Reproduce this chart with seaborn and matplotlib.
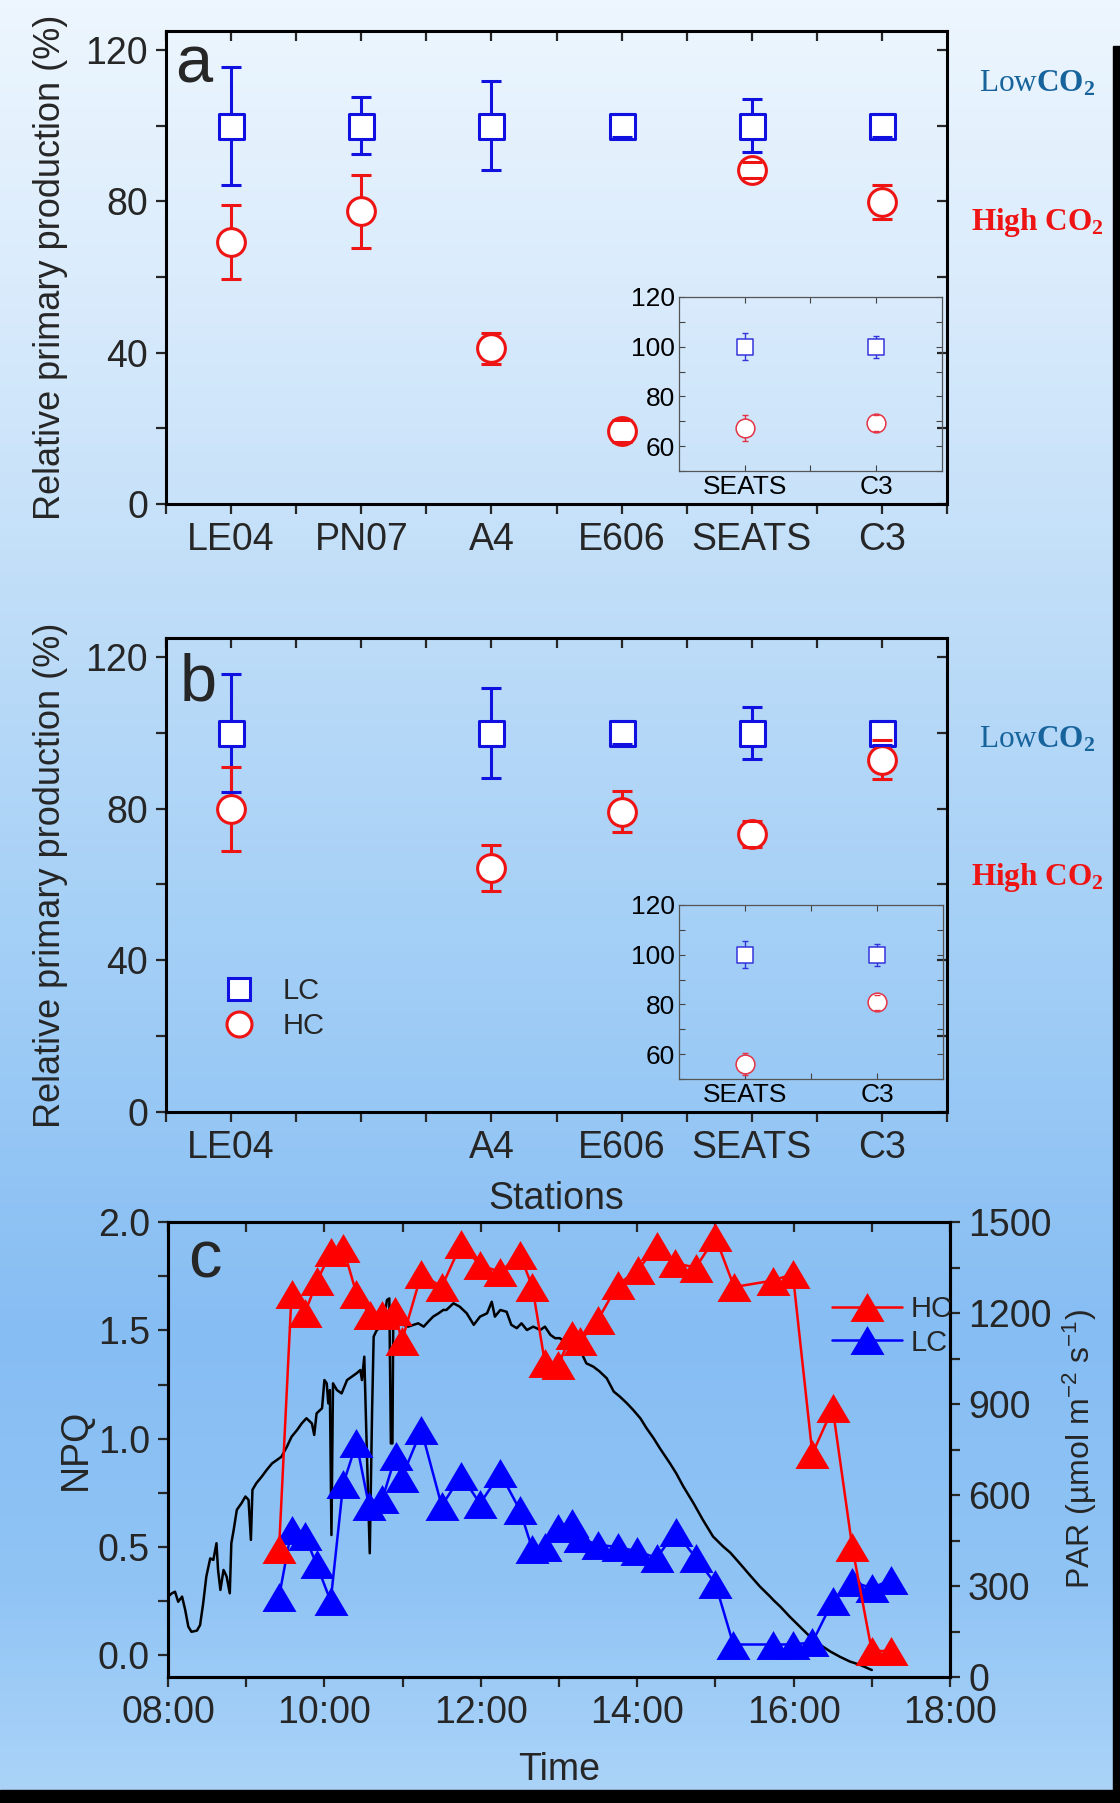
import numpy as np
import matplotlib
matplotlib.use('Agg')
import matplotlib.pyplot as plt
import seaborn as sns
from matplotlib.colors import LinearSegmentedColormap
from matplotlib.patches import Rectangle
from matplotlib.lines import Line2D
from matplotlib.ticker import MultipleLocator, FixedLocator, FuncFormatter

# ---- data -------------------------------------------------------------
stations = ['LE04', 'PN07', 'A4', 'E606', 'SEATS', 'C3']
stations_b = ['LE04', '', 'A4', 'E606', 'SEATS', 'C3']

# panel a: relative primary production (%)
a_pos = [1, 2, 3, 4, 5, 6]
a_lc = [100, 100, 100, 100, 100, 100]
a_lc_err = [15.6, 7.6, 11.8, 3.0, 6.9, 3.0]
a_hc = [69.2, 77.3, 41.1, 19.3, 88.3, 79.8]
a_hc_err = [9.8, 9.7, 4.0, 3.0, 2.2, 4.5]

# panel b: no PN07
b_pos = [1, 3, 4, 5, 6]
b_lc = [100, 100, 100, 100, 100]
b_lc_err = [15.5, 11.8, 3.0, 6.8, 3.2]
b_hc = [79.9, 64.4, 79.2, 73.3, 92.9]
b_hc_err = [11.2, 6.1, 5.4, 3.5, 5.2]

# insets
inset_st = ['SEATS', 'C3']
ia_lc = [100, 100]
ia_lc_err = [5.5, 4.5]
ia_hc = [67.3, 69.2]
ia_hc_err = [5.3, 3.2]
ib_lc = [100, 100]
ib_lc_err = [5.5, 4.5]
ib_hc = [56.1, 80.9]
ib_hc_err = [4.3, 3.0]

# panel c: NPQ time course (hours)
hc_time = [9.42, 9.58, 9.75, 9.91, 10.08, 10.24, 10.41, 10.58, 10.74, 10.90,
           10.99, 11.24, 11.50, 11.75, 11.99, 12.25, 12.50, 12.66, 12.82, 12.99,
           13.16, 13.27, 13.50, 13.75, 14.01, 14.25, 14.48, 14.75, 15.00, 15.24,
           15.74, 15.99, 16.24, 16.50, 16.75, 17.00, 17.25]
hc_npq = [0.49, 1.67, 1.58, 1.73, 1.86, 1.88, 1.67, 1.57, 1.57, 1.59,
          1.45, 1.76, 1.70, 1.90, 1.80, 1.77, 1.85, 1.70, 1.35, 1.34,
          1.48, 1.45, 1.55, 1.71, 1.78, 1.89, 1.81, 1.79, 1.93, 1.70,
          1.73, 1.76, 0.93, 1.14, 0.50, 0.02, 0.02]
lc_time = [9.42, 9.58, 9.75, 9.90, 10.08, 10.24, 10.41, 10.57, 10.74, 10.91,
           10.99, 11.24, 11.50, 11.75, 11.99, 12.25, 12.50, 12.66, 12.82, 12.99,
           13.16, 13.27, 13.50, 13.75, 14.00, 14.25, 14.49, 14.75, 15.00, 15.23,
           15.74, 15.99, 16.24, 16.50, 16.75, 17.00, 17.25]
lc_npq = [0.27, 0.58, 0.55, 0.42, 0.25, 0.79, 0.98, 0.69, 0.72, 0.92,
          0.82, 1.04, 0.69, 0.83, 0.70, 0.84, 0.67, 0.49, 0.50, 0.59,
          0.61, 0.54, 0.51, 0.50, 0.48, 0.45, 0.57, 0.45, 0.33, 0.05,
          0.05, 0.05, 0.06, 0.25, 0.34, 0.31, 0.35]

# PAR (umol m-2 s-1)
par_time = [8.00, 8.05, 8.09, 8.13, 8.18, 8.22, 8.26, 8.30, 8.37, 8.41,
            8.45, 8.49, 8.54, 8.58, 8.62, 8.64, 8.67, 8.71, 8.75, 8.79,
            8.81, 8.84, 8.88, 8.94, 8.99, 9.03, 9.06, 9.08, 9.13, 9.20,
            9.26, 9.33, 9.39, 9.45, 9.52, 9.58, 9.65, 9.71, 9.77, 9.84,
            9.87, 9.90, 9.97, 10.00, 10.03, 10.05, 10.07, 10.09, 10.11, 10.16,
            10.22, 10.29, 10.35, 10.41, 10.46, 10.48, 10.51, 10.54, 10.58, 10.61,
            10.63, 10.67, 10.71, 10.75, 10.80, 10.83, 10.85, 10.87, 10.88, 10.95,
            11.01, 11.07, 11.14, 11.20, 11.27, 11.33, 11.39, 11.46, 11.52, 11.56,
            11.65, 11.73, 11.82, 11.91, 11.99, 12.08, 12.14, 12.18, 12.25, 12.33,
            12.39, 12.46, 12.52, 12.59, 12.67, 12.76, 12.82, 12.89, 12.95, 13.01,
            13.10, 13.19, 13.27, 13.31, 13.35, 13.44, 13.52, 13.61, 13.70, 13.78,
            13.87, 13.95, 14.04, 14.12, 14.21, 14.29, 14.42, 14.50, 14.59, 14.72,
            14.84, 14.97, 15.10, 15.19, 15.31, 15.44, 15.57, 15.70, 15.74, 15.83,
            15.95, 16.08, 16.21, 16.34, 16.47, 16.59, 16.72, 16.85, 17.00]
par_val = [265, 276, 281, 248, 265, 221, 166, 149, 153, 171,
           243, 331, 391, 386, 441, 353, 287, 353, 331, 276,
           441, 485, 551, 573, 595, 584, 452, 617, 639, 661,
           682, 704, 715, 726, 759, 792, 814, 836, 853, 836,
           798, 869, 886, 979, 968, 902, 946, 468, 968, 946,
           935, 979, 990, 1001, 1012, 979, 1056, 770, 408, 880,
           1122, 1144, 1150, 1155, 1243, 1248, 770, 770, 1155, 1161,
           1161, 1155, 1161, 1166, 1155, 1172, 1188, 1199, 1210, 1210,
           1232, 1221, 1199, 1161, 1188, 1199, 1237, 1188, 1210, 1204,
           1161, 1150, 1166, 1144, 1155, 1144, 1155, 1128, 1117, 1117,
           1100, 1095, 1084, 1056, 1034, 1023, 1007, 985, 941, 924,
           902, 880, 853, 820, 787, 754, 704, 671, 628, 573,
           518, 463, 430, 410, 375, 336, 298, 265, 254, 232,
           199, 166, 133, 106, 84, 67, 51, 40, 23]

# ---- style ------------------------------------------------------------
sns.set_theme(style='ticks')
plt.rcParams['font.family'] = ['Liberation Sans', 'DejaVu Sans']
plt.rcParams['mathtext.fontset'] = 'custom'
plt.rcParams['mathtext.rm'] = 'Liberation Sans'
plt.rcParams['mathtext.it'] = 'Liberation Sans:italic'
plt.rcParams['mathtext.bf'] = 'Liberation Serif:bold'
plt.rcParams['axes.linewidth'] = 1.8
plt.rcParams['axes.edgecolor'] = 'black'

BLUE = '#1010e0'
RED = '#ee1414'
LOW_COL = '#17649c'
W, H = 1120, 1803

fig = plt.figure(figsize=(W / 100, H / 100), dpi=100)

# background gradient
bg = fig.add_axes([0, 0, 1, 1], zorder=-10)
grad = LinearSegmentedColormap.from_list('bg', [
    (0.0, '#edf6fe'), (0.15, '#dbecfc'), (0.35, '#bddcf8'), (0.55, '#a0cdf6'),
    (0.74, '#86bdf3'), (0.88, '#90c4f5'), (1.0, '#acd4f8')])
bg.imshow(np.linspace(0, 1, 256).reshape(-1, 1), aspect='auto', cmap=grad,
          extent=[0, 1, 0, 1])
bg.axis('off')
fig.patches.append(Rectangle((1113 / W, 0), 7 / W, 1 - 46 / H,
                             transform=fig.transFigure, color='black', zorder=5))
fig.patches.append(Rectangle((0, 0), 1, 13 / H, transform=fig.transFigure,
                             color='black', zorder=5))


def mirror_ticks(ax, xmaj, xmin, ymaj, ymin, right=True):
    sx = ax.secondary_xaxis('top')
    sx.xaxis.set_major_locator(FixedLocator(xmaj))
    sx.xaxis.set_minor_locator(FixedLocator(xmin))
    sx.tick_params(which='both', direction='in', length=7, width=1.6,
                   labeltop=False)
    if right:
        sy = ax.secondary_yaxis('right')
        sy.yaxis.set_major_locator(FixedLocator(ymaj))
        sy.yaxis.set_minor_locator(FixedLocator(ymin))
        sy.tick_params(which='both', direction='in', length=7, width=1.6,
                       labelright=False)


def station_points(ax, pos, lc, lc_err, hc, hc_err, ms_sq, ms_ci, mew,
                   lw, cap, blue, red):
    for y, err, col, mk, ms in [(lc, lc_err, blue, 's', ms_sq),
                                (hc, hc_err, red, 'o', ms_ci)]:
        y = np.asarray(y, float)
        err = np.asarray(err, float)
        ax.errorbar(pos, y, yerr=err, fmt='none', ecolor=col, elinewidth=lw,
                    capsize=0, zorder=2)
        sns.scatterplot(x=pos, y=y, ax=ax, marker=mk, s=ms ** 2, color='white',
                        edgecolor=col, linewidth=mew, zorder=3)
        for yy in (y + err, y - err):
            ax.plot(pos, yy, ls='none', marker='_', ms=2 * cap, mew=lw,
                    color=col, zorder=4)


def station_axes(ax, labels):
    ax.set_facecolor('none')
    ax.set_xlim(0.5, 6.5)
    ax.set_ylim(0, 125)
    ax.set_xticks(range(1, 7), labels)
    ax.xaxis.set_minor_locator(FixedLocator([0.5, 1.5, 2.5, 3.5, 4.5, 5.5, 6.5]))
    ax.set_yticks([0, 40, 80, 120])
    ax.yaxis.set_minor_locator(FixedLocator([20, 60, 100]))
    ax.tick_params(which='both', direction='out', length=7, width=1.6,
                   labelsize=27, pad=6, top=False, right=False)
    for s in ax.spines.values():
        s.set_visible(True)
        s.set_linewidth(2.2)
    mirror_ticks(ax, range(1, 7), [0.5, 1.5, 2.5, 3.5, 4.5, 5.5],
                 [0, 40, 80, 120], [20, 60, 100])
    ax.set_ylabel('Relative primary production (%)', fontsize=26)
    ax.yaxis.set_label_coords(-0.1255, 0.5)


def inset_axes(ax, lc, lc_err, hc, hc_err):
    ax.set_facecolor('none')
    station_points(ax, [1, 2], lc, lc_err, hc, hc_err, 12, 13.5, 1.1, 1.0,
                   2.3, '#3434dc', '#e53446')
    ax.set_xlim(0.5, 2.5)
    ax.set_ylim(50, 120)
    ax.set_xticks([1, 2], inset_st)
    ax.xaxis.set_minor_locator(FixedLocator([1.5]))
    ax.set_yticks([60, 80, 100, 120])
    ax.yaxis.set_minor_locator(MultipleLocator(10))
    ax.tick_params(which='both', direction='in', length=4, width=0.8,
                   labelsize=19, pad=3, top=True, right=True, colors='#444444',
                   labelcolor='black')
    for s in ax.spines.values():
        s.set_visible(True)
        s.set_linewidth(0.9)
        s.set_color('#555555')


# ---- panel a ------------------------------------------------------------
ax_a = fig.add_axes([166 / W, 1 - 504 / H, 781 / W, 473 / H])
station_points(ax_a, a_pos, a_lc, a_lc_err, a_hc, a_hc_err, 18, 20, 2.2, 2.2,
               7.5, BLUE, RED)
station_axes(ax_a, stations)
ax_a.text(0.012, 0.892, 'a', transform=ax_a.transAxes, fontsize=48,
          va='baseline')

in_a = fig.add_axes([679 / W, 1 - 471 / H, 263 / W, 174 / H])
inset_axes(in_a, ia_lc, ia_lc_err, ia_hc, ia_hc_err)

# ---- panel b ------------------------------------------------------------
ax_b = fig.add_axes([166 / W, 1 - 1112 / H, 781 / W, 474 / H])
station_points(ax_b, b_pos, b_lc, b_lc_err, b_hc, b_hc_err, 18, 20, 2.2, 2.2,
               7.5, BLUE, RED)
station_axes(ax_b, stations_b)
ax_b.set_xlabel('Stations', fontsize=27, va='top')
ax_b.xaxis.set_label_coords(0.5, -0.146)
ax_b.text(0.018, 0.869, 'b', transform=ax_b.transAxes, fontsize=48,
          va='baseline')
leg_b = [Line2D([], [], ls='none', marker='s', ms=16, mfc='white', mec=BLUE,
                mew=2.2, label='LC'),
         Line2D([], [], ls='none', marker='o', ms=18, mfc='white', mec=RED,
                mew=2.2, label='HC')]
ax_b.legend(handles=leg_b, loc='upper left', bbox_to_anchor=(0.075, 0.285),
            frameon=False, fontsize=21, handlelength=1.0, handletextpad=1.0,
            labelspacing=0.25, borderpad=0, borderaxespad=0)

in_b = fig.add_axes([679 / W, 1 - 1079 / H, 264 / W, 174 / H])
inset_axes(in_b, ib_lc, ib_lc_err, ib_hc, ib_hc_err)

# Low / High CO2 annotations
for yb_low, yb_high in [(92, 230), (747, 885)]:
    fig.text(979 / W, 1 - yb_low / H, r'Low$\mathbf{CO_2}$', color=LOW_COL,
             fontsize=22.5, family='Liberation Serif', va='baseline')
    fig.text(971 / W, 1 - yb_high / H, r'High $\mathbf{CO_2}$', color=RED,
             fontsize=22.5, family='Liberation Serif', weight='bold',
             va='baseline')

# ---- panel c ------------------------------------------------------------
ax_c = fig.add_axes([168 / W, 1 - 1677 / H, 782 / W, 455 / H])
ax_par = ax_c.twinx()
tri = [(-1, -0.85), (1, -0.85), (0, 0.85)]

sns.lineplot(x=par_time, y=par_val, ax=ax_par, color='black', lw=1.8,
             sort=False, errorbar=None)
sns.lineplot(x=lc_time, y=lc_npq, ax=ax_c, color='#0000ff', lw=1.8,
             marker=tri, markersize=24.5, mec='#0000ff', mew=0, sort=False,
             errorbar=None)
sns.lineplot(x=hc_time, y=hc_npq, ax=ax_c, color='#ff0000', lw=1.8,
             marker=tri, markersize=24.5, mec='#ff0000', mew=0, sort=False,
             errorbar=None)

ax_c.set_zorder(ax_par.get_zorder() + 1)
ax_c.patch.set_visible(False)
ax_par.patch.set_visible(False)

ax_c.set_xlim(8, 18)
ax_c.set_ylim(-0.1, 2.0)
ax_par.set_ylim(0, 1500)
ax_c.xaxis.set_major_locator(MultipleLocator(2))
ax_c.xaxis.set_minor_locator(MultipleLocator(1))
ax_c.xaxis.set_major_formatter(FuncFormatter(lambda v, p: f'{int(v):02d}:00'))
ax_c.yaxis.set_major_locator(MultipleLocator(0.5))
ax_c.yaxis.set_minor_locator(MultipleLocator(0.25))
ax_c.yaxis.set_major_formatter(FuncFormatter(lambda v, p: f'{v:.1f}'))
ax_par.yaxis.set_major_locator(MultipleLocator(300))
ax_par.yaxis.set_minor_locator(MultipleLocator(150))
ax_c.tick_params(which='both', direction='out', length=7, width=1.6,
                 labelsize=27, pad=6, top=False, right=False)
ax_par.tick_params(which='both', direction='out', length=7, width=1.6,
                   labelsize=27, pad=6)
for a in (ax_c, ax_par):
    for s in a.spines.values():
        s.set_visible(True)
        s.set_linewidth(2.2)
sx = ax_c.secondary_xaxis('top')
sx.xaxis.set_major_locator(MultipleLocator(2))
sx.xaxis.set_minor_locator(MultipleLocator(1))
sx.tick_params(which='both', direction='in', length=7, width=1.6, labeltop=False)

ax_c.set_xlabel('Time', fontsize=27, va='top')
ax_c.xaxis.set_label_coords(0.5, -0.165)
ax_c.set_ylabel('NPQ', fontsize=27)
ax_c.yaxis.set_label_coords(-0.095, 0.5)
ax_par.set_ylabel('PAR (µmol m$^{-2}$ s$^{-1}$)', fontsize=23)
ax_par.yaxis.set_label_coords(1.142, 0.5)
ax_c.text(0.026, 0.877, 'c', transform=ax_c.transAxes, fontsize=48,
          va='baseline')

leg_c = [Line2D([], [], color='#ff0000', lw=1.8, marker=tri, ms=24.5,
                mew=0, label='HC'),
         Line2D([], [], color='#0000ff', lw=1.8, marker=tri, ms=24.5,
                mew=0, label='LC')]
ax_c.legend(handles=leg_c, loc='upper left', bbox_to_anchor=(0.849, 0.84),
            frameon=False, fontsize=21, handlelength=2.4, handletextpad=0.3,
            labelspacing=0.2, borderpad=0, borderaxespad=0)

fig.savefig('out.png', dpi=100)
